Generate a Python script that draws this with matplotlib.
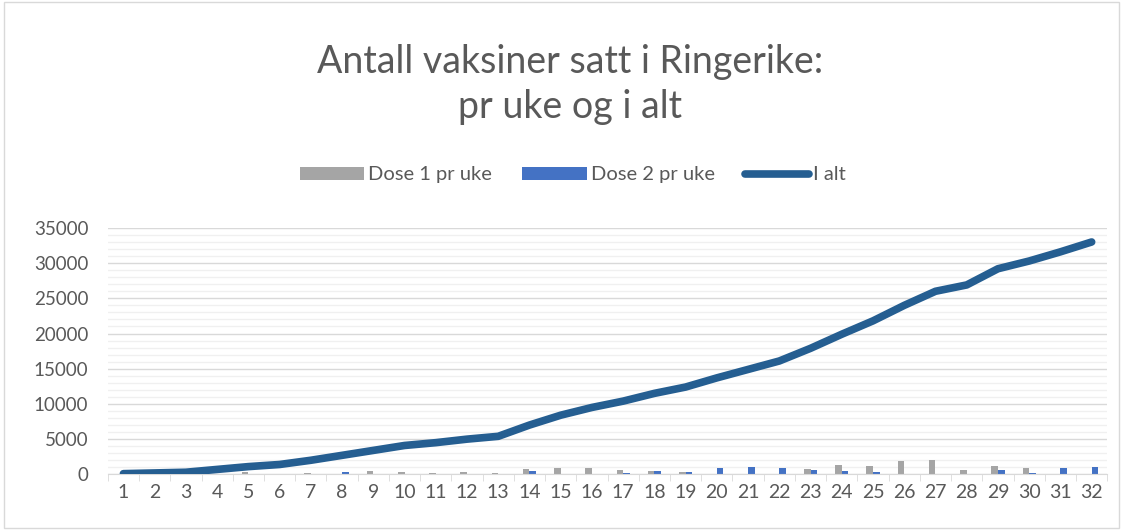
import matplotlib.pyplot as plt
import numpy as np
from matplotlib.patches import Rectangle
from matplotlib.ticker import MultipleLocator

plt.rcParams['font.family'] = ['Lato', 'DejaVu Sans']

weeks = list(range(1, 33))
dose1 = [0, 0, 0, 0, 330, 50, 240, 50, 430, 330, 240, 330, 240, 800, 950, 950,
         660, 430, 380, 50, 0, 0, 810, 1330, 1140, 1900, 2000, 660, 1140, 850, 90, 0]
dose2 = [0, 0, 0, 0, 0, 0, 80, 380, 80, 120, 0, 0, 0, 530, 0, 0,
         140, 430, 380, 950, 1040, 950, 660, 520, 380, 90, 0, 0, 660, 190, 850, 1040]
total = [100, 200, 300, 700, 1100, 1400, 2000, 2700, 3400, 4100, 4500, 5000, 5400,
         7000, 8400, 9500, 10400, 11500, 12400, 13700, 14900, 16100, 17900, 19900,
         21800, 24000, 26000, 26900, 29200, 30300, 31600, 33000]

gray = '#a5a5a5'
blue = '#4472c4'
dark = '#255e91'
txt = '#595959'

fig = plt.figure(figsize=(11.23, 5.30), dpi=100)
fig.patches.append(Rectangle((0.004, 0.004), 0.992, 0.992, transform=fig.transFigure,
                             fill=False, edgecolor='#d9d9d9', linewidth=1))
ax = fig.add_axes([0.096, 0.105, 0.89, 0.465])

x = np.arange(len(weeks))
w = 0.21
b1 = ax.bar(x - w / 2, dose1, width=w, color=gray, label='Dose 1 pr uke', zorder=2)
b2 = ax.bar(x + w / 2, dose2, width=w, color=blue, label='Dose 2 pr uke', zorder=2)
ln, = ax.plot(x, total, color=dark, linewidth=5.5, solid_capstyle='round',
              solid_joinstyle='round', label='I alt', zorder=3)

ax.set_xlim(-0.5, len(weeks) - 0.5)
ax.set_ylim(0, 35000)
ax.yaxis.set_major_locator(MultipleLocator(5000))
ax.yaxis.set_minor_locator(MultipleLocator(1000))
ax.grid(axis='y', which='major', color='#d9d9d9', linewidth=1, zorder=0)
ax.grid(axis='y', which='minor', color='#f0f0f0', linewidth=1, zorder=0)
ax.set_xticks(x)
ax.set_xticklabels([str(v) for v in weeks])
ax.set_xticks(np.arange(-0.5, len(weeks), 1), minor=True)
ax.tick_params(axis='x', which='major', length=0, labelsize=14, colors=txt, pad=7)
ax.tick_params(axis='x', which='minor', length=5, color='#d9d9d9')
ax.tick_params(axis='y', which='both', length=0, labelsize=13.5, colors=txt, pad=14)
for s in ['top', 'right', 'left']:
    ax.spines[s].set_visible(False)
ax.spines['bottom'].set_color('#d9d9d9')

fig.text(0.508, 0.84, 'Antall vaksiner satt i Ringerike:\npr uke og i alt', ha='center',
         va='center', fontsize=27, color=txt, linespacing=1.3)
fig.legend([b1, b2, ln], ['Dose 1 pr uke', 'Dose 2 pr uke', 'I alt'],
           loc='center', bbox_to_anchor=(0.51, 0.67), ncol=3, frameon=False,
           fontsize=14.5, labelcolor=txt, handlelength=3.2, handleheight=0.6,
           handletextpad=0.2, columnspacing=1.5)

fig.savefig('out.png', dpi=100, facecolor='white')
